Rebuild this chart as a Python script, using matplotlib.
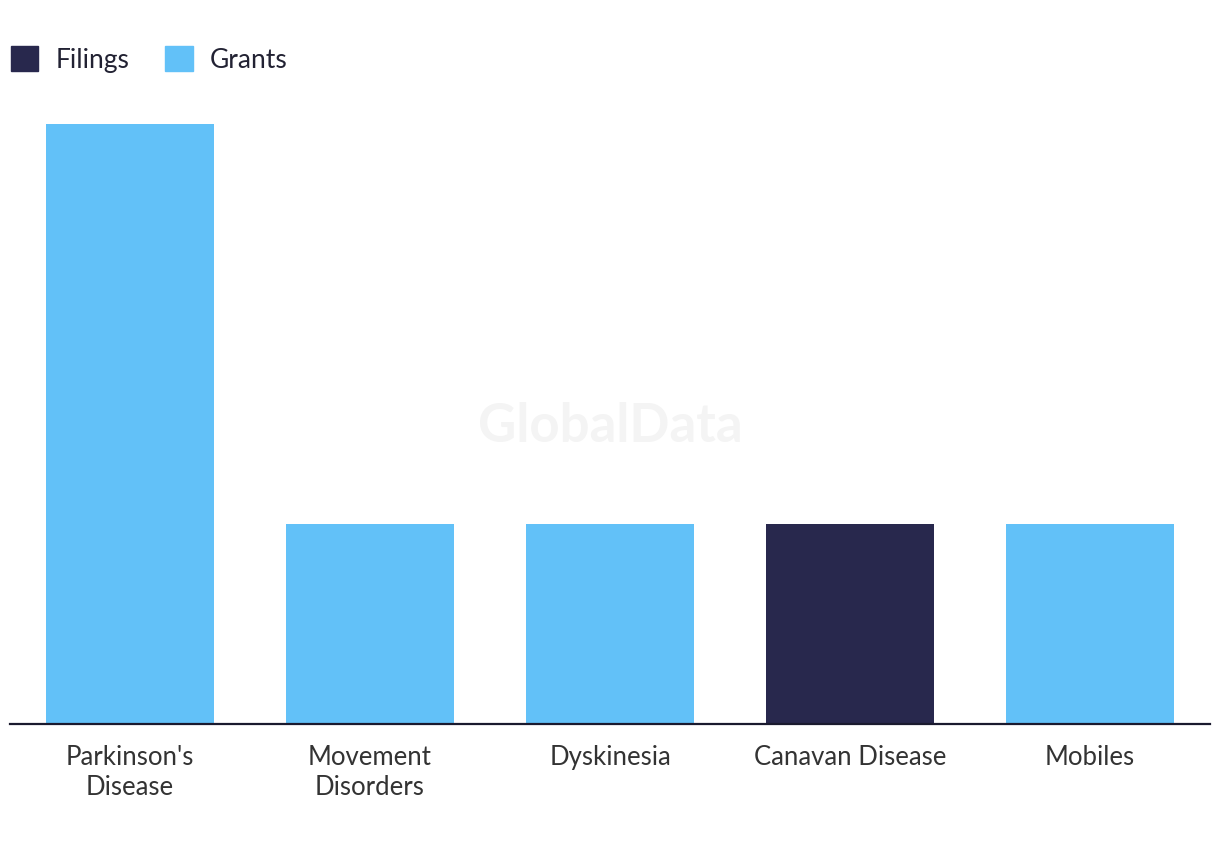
import matplotlib
matplotlib.use("Agg")
import matplotlib.pyplot as plt
from matplotlib.patches import Patch

categories = ["Parkinson's\nDisease", "Movement\nDisorders", "Dyskinesia", "Canavan Disease", "Mobiles"]
filings = [0, 0, 0, 1, 0]
grants = [3, 1, 1, 0, 1]

c_fil = "#28284d"
c_gra = "#62c1f8"

plt.rcParams['font.family'] = ['Lato', 'DejaVu Sans']

fig = plt.figure(figsize=(12.2, 8.5), dpi=100)
ax = fig.add_axes([10/1220, 126/850, 1200/1220, 600/850])

x = list(range(len(categories)))
ax.bar(x, filings, width=0.7, color=c_fil, zorder=2)
ax.bar(x, grants, width=0.7, bottom=filings, color=c_gra, zorder=2)

ax.set_xlim(-0.5, len(categories) - 0.5)
ax.set_ylim(0, 3)
for s in ["top", "right", "left"]:
    ax.spines[s].set_visible(False)
ax.spines["bottom"].set_color("#1a1a2e")
ax.spines["bottom"].set_linewidth(1.6)
ax.set_yticks([])
ax.set_xticks(x)
ax.set_xticklabels(categories, fontsize=18.5, color="#333333", linespacing=1.27)
ax.tick_params(axis="x", length=0, pad=15)

fig.text(610/1220, 1 - 427/850, "GlobalData", fontsize=38, fontweight="bold",
         color="#f4f4f4", ha="center", va="center", zorder=0)

handles = [Patch(color=c_fil, label="Filings"), Patch(color=c_gra, label="Grants")]
fig.legend(handles=handles, loc="upper left", bbox_to_anchor=(10/1220 - 0.006, 1 - 38/850),
           ncol=2, frameon=False, fontsize=19, handlelength=1.05, handleheight=1.1,
           handletextpad=0.65, columnspacing=1.35, labelcolor="#222233", borderaxespad=0.0,
           borderpad=0.3)

fig.savefig("out.png", dpi=100, facecolor="white")
